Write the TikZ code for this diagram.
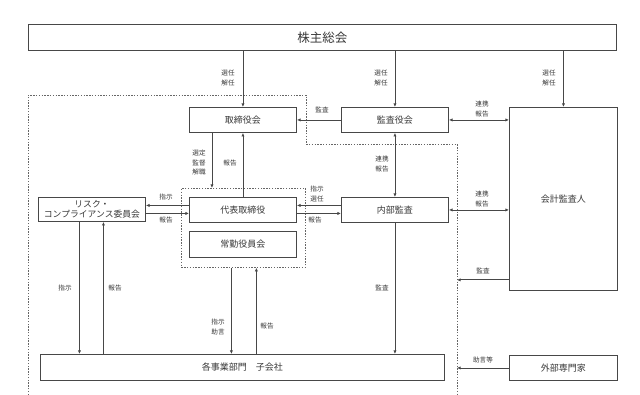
\documentclass[tikz,border=0pt]{standalone}
\usepackage{fontspec}
\setmainfont{Noto Sans CJK JP}
\usetikzlibrary{arrows.meta,calc}
\begin{document}
\begin{tikzpicture}[x=1pt,y=-1pt,
  ln/.style={draw=black!72, line width=0.8pt},
  box/.style={draw=black!72, line width=0.9pt, fill=white, inner sep=0pt,
    minimum width=107pt, minimum height=25pt, anchor=north west,
    font=\fontsize{9}{11}\selectfont, text=black!78, align=center},
  lbl/.style={font=\fontsize{6.6}{9.5}\selectfont, text=black!78, align=center, inner sep=0pt},
  arr/.style={ln, -{Latex[length=3.6pt,width=3.2pt]}},
  darr/.style={ln, {Latex[length=3.6pt,width=3.2pt]}-{Latex[length=3.6pt,width=3.2pt]}},
  grpline/.style={draw=black!60, line width=0.8pt, dash pattern=on 1.4pt off 1.4pt}
]
\useasboundingbox (0,0) rectangle (640,395);
\fill[white] (0,0) rectangle (640,395);

% outer dashed region
\coordinate (dA) at (28,395);
\coordinate (dB) at (28,95);
\coordinate (dC) at (306,95);
\coordinate (dD) at (306,144);
\coordinate (dE) at (457,144);
\coordinate (dR) at (457,395);
\draw[grpline] (dA) -- (dB) -- (dC) -- (dD) -- (dE) -- (dR);

% inner dashed group
\node[grpline, minimum width=124pt, minimum height=79pt, anchor=north west, inner sep=0pt] (grp) at (181,188) {};

% boxes
\node[box, minimum width=588pt, minimum height=26pt, font=\fontsize{12.5}{14}\selectfont] (kabu) at (28,24) {株主総会};
\node[box] (tori) at (189,107) {取締役会};
\node[box] (kansa) at (341,107) {監査役会};
\node[box, minimum width=108pt, minimum height=183pt] (kaikei) at (509,107) {会計監査人};
\node[box] (daihyo) at (189,197) {代表取締役};
\node[box, minimum height=26pt] (jokin) at (189,231) {常勤役員会};
\node[box, minimum height=24pt, font=\fontsize{8.8}{10.5}\selectfont] (risk) at (38,197) {リスク・\\コンプライアンス委員会};
\node[box] (naibu) at (341,197) {内部監査};
\node[box, minimum width=404pt, minimum height=26pt] (kaku) at (40,354) {各事業部門\quad 子会社};
\node[box, minimum width=108pt] (gaibu) at (509,355) {外部専門家};

% shareholders -> boards
\draw[arr] (kabu.south -| tori.north) -- (tori.north);
\node[lbl] (l1) at (228,78) {選任\\解任};
\draw[arr] (kabu.south -| kansa.north) -- (kansa.north);
\node[lbl] (l2) at (381,78) {選任\\解任};
\draw[arr] (kabu.south -| kaikei.north) -- (kaikei.north);
\node[lbl] (l3) at (549,78) {選任\\解任};

% kansa -> tori
\draw[arr] (kansa.west) -- (tori.east);
\node[lbl] (l4) at (322,110) {監査};
% kansa <-> kaikei
\draw[darr] (kansa.east) -- (kansa.east -| kaikei.west);
\node[lbl] (l5) at (482,109) {連携\\報告};

% tori <-> daihyo
\draw[arr] ([xshift=-31pt]tori.south) -- ([xshift=-31pt]tori.south |- grp.north);
\node[lbl] (l6) at (199,163) {選定\\監督\\解職};
\draw[arr] (daihyo.north) -- (tori.south);
\node[lbl] (l7) at (230,163) {報告};

% daihyo <-> risk
\draw[arr] ([yshift=4.5pt]daihyo.west) -- ([yshift=4.5pt]daihyo.west -| risk.east);
\node[lbl] (l8) at (166,197) {指示};
\draw[arr] ([yshift=-4pt]risk.east) -- ([yshift=-4pt]risk.east -| daihyo.west);
\node[lbl] (l9) at (166,220) {報告};

% naibu <-> daihyo
\draw[arr] ([yshift=4.5pt]naibu.west) -- ([yshift=4.5pt]naibu.west -| daihyo.east);
\node[lbl] (l10) at (317,194) {指示\\選任};
\draw[arr] ([yshift=-3.5pt]daihyo.east) -- ([yshift=-3.5pt]daihyo.east -| naibu.west);
\node[lbl] (l11) at (315,220) {報告};

% kansa <-> naibu
\draw[darr] (kansa.south) -- (naibu.north);
\node[lbl] (l12) at (382,164) {連携\\報告};
% naibu <-> kaikei
\draw[darr] (naibu.east) -- (naibu.east -| kaikei.west);
\node[lbl] (l13) at (482,199) {連携\\報告};

% kaikei -> audit line
\draw[arr] ([yshift=11pt]kaikei.south west) -- ([yshift=11pt]kaikei.south west -| dR);
\node[lbl] (l14) at (483,271) {監査};
% gaibu -> line
\draw[arr] (gaibu.west) -- (gaibu.west -| dR);
\node[lbl] (l15) at (483,360) {助言等};

% risk <-> kaku
\draw[arr] ([xshift=-12.5pt]risk.south) -- ([xshift=-12.5pt]risk.south |- kaku.north);
\node[lbl] (l16) at (65,288) {指示};
\draw[arr] ([xshift=11.5pt]risk.south |- kaku.north) -- ([xshift=11.5pt]risk.south);
\node[lbl] (l17) at (115,288) {報告};

% grp <-> kaku
\draw[arr] ([xshift=-12pt]grp.south) -- ([xshift=-12pt]grp.south |- kaku.north);
\node[lbl] (l18) at (218,327) {指示\\助言};
\draw[arr] ([xshift=13pt]grp.south |- kaku.north) -- ([xshift=13pt]grp.south);
\node[lbl] (l19) at (267,326) {報告};

% naibu -> kaku
\draw[arr] (naibu.south) -- (naibu.south |- kaku.north);
\node[lbl] (l20) at (382,288) {監査};
\end{tikzpicture}
\end{document}
